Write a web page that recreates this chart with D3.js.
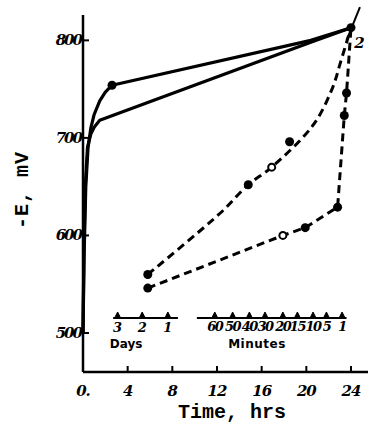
<!DOCTYPE html>
<html>
<head>
<meta charset="utf-8">
<script src="https://cdn.jsdelivr.net/npm/d3@7"></script>
<style>
  html, body { margin: 0; padding: 0; background: #fff; }
  svg { display: block; }
  .tick-lbl { font-family: 'DejaVu Serif', serif; font-weight: bold; font-style: italic; font-size: 15px; }
  .title { font-family: 'Liberation Mono', monospace; font-weight: bold; font-size: 20px; }
  .sub { font-family: 'DejaVu Sans', sans-serif; font-weight: bold; font-size: 12px; }
  .sub-tick { font-family: 'DejaVu Serif', serif; font-weight: bold; font-style: italic; font-size: 13px; }
</style>
</head>
<body>
<script>
const WIDTH = 368
const HEIGHT = 434

// hours vs -E (mV)
const solidUpper = [[0, 500], [0.1, 580], [0.25, 650], [0.45, 690], [0.7, 710], [1.0, 724], [1.5, 738], [2.0, 747], [2.6, 754], [20.4, 800], [24, 813]]
const solidLower = [[0, 500], [0.08, 580], [0.2, 650], [0.4, 690], [0.7, 704], [1.0, 711], [1.5, 718], [20.4, 798], [24, 813]]
const dashedUpper = [[5.8, 560], [12.3, 623], [14.8, 652], [16.9, 670], [20.6, 713], [22.3, 750], [23.1, 779], [24, 813]]
const dashedLower = [[5.8, 546], [17.9, 600], [19.9, 608], [22.8, 629], [23.4, 723], [23.6, 746], [24, 813]]

// plotted markers
const filledPts = [[2.6, 754], [5.8, 560], [5.8, 546], [14.8, 652], [18.5, 696], [19.9, 608], [22.8, 629], [23.4, 723], [23.6, 746], [24, 813]]
const openPts = [[16.9, 670], [17.9, 600]]

const yTicks = [500, 600, 700, 800]
const xTicks = [0, 4, 8, 12, 16, 20, 24]
const xTickLabels = ['0.', '4', '8', '12', '16', '20', '24']

// secondary scale (placed in hours)
const dayPos = [3.1, 5.3, 7.6]
const dayLabels = ['3', '2', '1']
const minutePos = [11.8, 13.4, 14.9, 16.3, 17.9, 19.2, 20.6, 21.8, 23.2]
const minuteLabels = ['60', '50', '40', '30', '20', '15', '10', '5', '1']

const x = d3.scaleLinear().domain([0, 24]).range([83, 351])
const y = d3.scaleLinear().domain([460, 826]).range([372, 15])

const svg = d3.select('body').append('svg')
  .attr('width', WIDTH)
  .attr('height', HEIGHT)

// axes
svg.append('line')
  .attr('x1', x(0)).attr('x2', x(0))
  .attr('y1', y(826)).attr('y2', y(460))
  .attr('stroke', '#000').attr('stroke-width', 2.5)
svg.append('line')
  .attr('x1', x(0)).attr('x2', WIDTH)
  .attr('y1', y(460)).attr('y2', y(460))
  .attr('stroke', '#000').attr('stroke-width', 2.5)

svg.append('g').selectAll('line')
  .data(yTicks)
  .enter()
  .append('line')
  .attr('x1', x(0)).attr('x2', x(0) + 6)
  .attr('y1', (d) => y(d)).attr('y2', (d) => y(d))
  .attr('stroke', '#000').attr('stroke-width', 2)

svg.append('g').selectAll('text')
  .data(yTicks)
  .enter()
  .append('text')
  .attr('class', 'tick-lbl')
  .attr('x', x(0) - 2)
  .attr('y', (d) => y(d) + 5)
  .attr('text-anchor', 'end')
  .attr('letter-spacing', -2)
  .text((d) => d)

svg.append('g').selectAll('line')
  .data(xTicks.slice(1))
  .enter()
  .append('line')
  .attr('x1', (d) => x(d)).attr('x2', (d) => x(d))
  .attr('y1', y(460)).attr('y2', y(460) - 6)
  .attr('stroke', '#000').attr('stroke-width', 2)

svg.append('g').selectAll('text')
  .data(xTicks)
  .enter()
  .append('text')
  .attr('class', 'tick-lbl')
  .attr('x', (d) => x(d))
  .attr('y', y(460) + 24)
  .attr('text-anchor', 'middle')
  .attr('letter-spacing', -1)
  .text((d, i) => xTickLabels[i])

// secondary Days / Minutes scale
const subY = 318
svg.append('line')
  .attr('x1', x(2.7)).attr('x2', x(8.5))
  .attr('y1', subY).attr('y2', subY)
  .attr('stroke', '#000').attr('stroke-width', 2)
svg.append('line')
  .attr('x1', x(10.2)).attr('x2', x(23.6))
  .attr('y1', subY).attr('y2', subY)
  .attr('stroke', '#000').attr('stroke-width', 2)

const subMarks = dayPos.concat(minutePos)
svg.append('g').selectAll('path')
  .data(subMarks)
  .enter()
  .append('path')
  .attr('d', (d) => `M${x(d) - 3},${subY} L${x(d)},${subY - 6} L${x(d) + 3},${subY} Z`)
  .attr('fill', '#000').attr('stroke', '#000').attr('stroke-width', 1)

svg.append('g').selectAll('text')
  .data(dayPos)
  .enter()
  .append('text')
  .attr('class', 'sub-tick')
  .attr('x', (d) => x(d))
  .attr('y', subY + 14)
  .attr('text-anchor', 'middle')
  .text((d, i) => dayLabels[i])

svg.append('g').selectAll('text')
  .data(minutePos)
  .enter()
  .append('text')
  .attr('class', 'sub-tick')
  .attr('x', (d) => x(d))
  .attr('y', subY + 13)
  .attr('text-anchor', 'middle')
  .attr('font-size', 11)
  .attr('letter-spacing', -1.5)
  .text((d, i) => minuteLabels[i])

svg.append('text')
  .attr('class', 'sub')
  .attr('x', x(2.4))
  .attr('y', subY + 30)
  .text('Days')
svg.append('text')
  .attr('class', 'sub')
  .attr('x', x(13.0))
  .attr('y', subY + 30)
  .attr('letter-spacing', 0.5)
  .text('Minutes')

// curves
const line = d3.line()
  .x((d) => x(d[0]))
  .y((d) => y(d[1]))

svg.append('path')
  .datum(solidUpper)
  .attr('d', line)
  .attr('fill', 'none').attr('stroke', '#000').attr('stroke-width', 3.2)
  .attr('stroke-linejoin', 'round')
svg.append('path')
  .datum(solidLower)
  .attr('d', line)
  .attr('fill', 'none').attr('stroke', '#000').attr('stroke-width', 3.2)
  .attr('stroke-linejoin', 'round')

const dashLine = d3.line()
  .x((d) => x(d[0]))
  .y((d) => y(d[1]))
  .curve(d3.curveCatmullRom)

svg.append('path')
  .datum(dashedUpper)
  .attr('d', dashLine)
  .attr('fill', 'none').attr('stroke', '#000').attr('stroke-width', 3)
  .attr('stroke-dasharray', '8,5')
svg.append('path')
  .datum(dashedLower)
  .attr('d', line)
  .attr('fill', 'none').attr('stroke', '#000').attr('stroke-width', 3)
  .attr('stroke-dasharray', '8,5')

// markers
svg.append('g').selectAll('circle')
  .data(filledPts)
  .enter()
  .append('circle')
  .attr('cx', (d) => x(d[0]))
  .attr('cy', (d) => y(d[1]))
  .attr('r', 4.5)
  .attr('fill', '#000')

svg.append('g').selectAll('circle')
  .data(openPts)
  .enter()
  .append('circle')
  .attr('cx', (d) => x(d[0]))
  .attr('cy', (d) => y(d[1]))
  .attr('r', 3.5)
  .attr('fill', '#fff')
  .attr('stroke', '#000')
  .attr('stroke-width', 2)

// curve label "2" with leader
svg.append('line')
  .attr('x1', x(23.6)).attr('y1', y(800))
  .attr('x2', x(24.8)).attr('y2', y(834))
  .attr('stroke', '#000').attr('stroke-width', 2)
svg.append('text')
  .attr('class', 'tick-lbl')
  .attr('x', x(24.3))
  .attr('y', y(792))
  .text('2')

// axis titles
svg.append('text')
  .attr('class', 'title')
  .attr('x', 232)
  .attr('y', 418)
  .attr('text-anchor', 'middle')
  .text('Time, hrs')

svg.append('text')
  .attr('class', 'title')
  .attr('transform', 'translate(28,190) rotate(-90)')
  .attr('text-anchor', 'middle')
  .attr('letter-spacing', 1)
  .text('-E, mV')
</script>
</body>
</html>
